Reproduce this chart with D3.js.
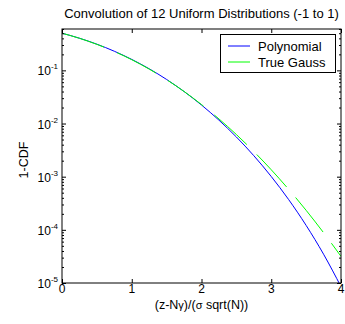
<!DOCTYPE html>
<html lang="en">
<head>
    <meta charset="UTF-8">
    <title>Convolution of 12 Uniform Distributions</title>
    <script src="https://cdn.jsdelivr.net/npm/d3@7/dist/d3.min.js"></script>
    <style>
        body { margin: 0; background: #fff; }
        text { font-family: "Liberation Sans", Arial, sans-serif; fill: #000; }
    </style>
</head>
<body>
<svg width="345" height="324"></svg>
<script type="text/javascript">
    // normalised variable (z - N*gamma)/(sigma*sqrt(N))
    var xValues = [0, 0.25, 0.5, 0.75, 1, 1.25, 1.5, 1.75, 2, 2.25, 2.5, 2.75, 3, 3.25, 3.5, 3.75, 4];
    // 1-CDF of the sum of 12 uniforms (piecewise polynomial)
    var polyValues = [0.5, 0.4027, 0.3106, 0.2290, 0.1607, 0.1071, 0.0674, 0.0400, 0.02228, 0.01157,
        0.00558, 0.00248, 0.001007, 0.000370, 0.0001212, 0.0000348, 0.00000853];
    // 1-CDF of the true gaussian
    var gaussValues = [0.5, 0.4013, 0.3085, 0.2266, 0.1587, 0.1056, 0.0668, 0.0401, 0.02275, 0.01222,
        0.00621, 0.00298, 0.00135, 0.000577, 0.000233, 0.0000884, 0.0000317];
    var xTicks = [0, 1, 2, 3, 4];
    var yDecades = [1e-5, 1e-4, 1e-3, 1e-2, 1e-1];
    var yExponents = ["-5", "-4", "-3", "-2", "-1"];
    var seriesNames = ["Polynomial", "True Gauss"];
    var seriesColors = ["#0000ff", "#00ff00"];

    var marge = {top: 29, bottom: 41, left: 62, right: 4};
    var svg = d3.select("svg");
    var width = +svg.attr("width");
    var height = +svg.attr("height");
    var x0 = marge.left, x1 = width - marge.right;
    var y0 = marge.top, y1 = height - marge.bottom;

    var xScale = d3.scaleLinear().domain([0, 4]).range([x0, x1]);
    var yScale = d3.scaleLog().domain([1e-5, 0.6]).range([y1, y0]);

    var line = d3.line()
        .x(function (d) { return xScale(d[0]); })
        .y(function (d) { return yScale(d[1]); })
        .curve(d3.curveMonotoneX);

    var polyPts = xValues.map(function (x, i) { return [x, polyValues[i]]; });
    var gaussPts = xValues.map(function (x, i) { return [x, gaussValues[i]]; });

    // clip to the axes box
    svg.append("clipPath").attr("id", "clip")
        .append("rect").attr("x", x0).attr("y", y0).attr("width", x1 - x0).attr("height", y1 - y0);

    var plot = svg.append("g").attr("clip-path", "url(#clip)");
    plot.append("path").datum(polyPts)
        .attr("d", line).attr("fill", "none")
        .attr("stroke", seriesColors[0]).attr("stroke-width", 1);
    var gPath = plot.append("path").datum(gaussPts)
        .attr("d", line).attr("fill", "none")
        .attr("stroke", seriesColors[1]).attr("stroke-width", 1)
        .attr("stroke-dasharray", "44,14");

    // line up the dash gaps with the reference (a gap starts near x = 3.22)
    var node = gPath.node();
    var total = node.getTotalLength();
    var lo = 0, hi = total, target = xScale(3.22);
    for (var k = 0; k < 40; k++) {
        var mid = (lo + hi) / 2;
        if (node.getPointAtLength(mid).x < target) lo = mid; else hi = mid;
    }
    var off = ((44 - lo) % 58 + 58) % 58;
    gPath.attr("stroke-dashoffset", off);

    // axes, ticks pointing inward on all four sides
    var yTicksAll = yScale.ticks().filter(function (v) { return v <= 0.6; });
    function addAxis(axis, tx, ty) {
        var g = svg.append("g").attr("transform", "translate(" + tx + "," + ty + ")").call(axis);
        g.selectAll("text").remove();
        g.select(".domain").remove();
        g.selectAll("line").attr("stroke", "#000");
        return g;
    }
    addAxis(d3.axisBottom(xScale).tickValues(xTicks).tickSizeInner(-4).tickSizeOuter(0), 0, y1);
    addAxis(d3.axisTop(xScale).tickValues(xTicks).tickSizeInner(-4).tickSizeOuter(0), 0, y0);
    var yl = addAxis(d3.axisLeft(yScale).tickValues(yTicksAll).tickSizeInner(-2).tickSizeOuter(0), x0, 0);
    var yr = addAxis(d3.axisRight(yScale).tickValues(yTicksAll).tickSizeInner(-2).tickSizeOuter(0), x1, 0);
    [yl, yr].forEach(function (g) {
        g.selectAll(".tick").filter(function (d) { return yDecades.indexOf(d) >= 0; })
            .select("line").attr("x2", g === yl ? 4 : -4);
    });

    svg.append("rect")
        .attr("x", x0).attr("y", y0).attr("width", x1 - x0).attr("height", y1 - y0)
        .attr("fill", "none").attr("stroke", "#000").attr("stroke-width", 1);

    // tick labels
    svg.selectAll(".xlab").data(xTicks).enter().append("text")
        .attr("x", function (d) { return xScale(d); })
        .attr("y", y1 + 10)
        .attr("text-anchor", "middle")
        .attr("font-size", 12)
        .text(function (d) { return d; });

    var ylab = svg.selectAll(".ylab").data(yDecades).enter().append("text")
        .attr("x", x0 - 4)
        .attr("y", function (d) { return yScale(d) + 5; })
        .attr("text-anchor", "end")
        .attr("font-size", 12);
    ylab.append("tspan").text("10");
    ylab.append("tspan").attr("dy", -6).attr("font-size", 8)
        .text(function (d, i) { return yExponents[i]; });

    // title and axis labels
    svg.append("text")
        .attr("x", (x0 + x1) / 2).attr("y", 18)
        .attr("text-anchor", "middle").attr("font-size", 13)
        .text("Convolution of 12 Uniform Distributions (-1 to 1)");

    var xl = svg.append("text")
        .attr("x", (x0 + x1) / 2).attr("y", 309)
        .attr("text-anchor", "middle").attr("font-size", 12.5);
    xl.append("tspan").text("(z-N");
    xl.append("tspan").attr("font-size", 11).text("\u03b3");
    xl.append("tspan").text(")/(");
    xl.append("tspan").attr("font-size", 11).text("\u03c3");
    xl.append("tspan").text(" sqrt(N))");

    svg.append("text")
        .attr("transform", "translate(28," + ((y0 + y1) / 2 + 4) + ") rotate(-90)")
        .attr("text-anchor", "middle").attr("font-size", 12.5)
        .text("1-CDF");

    // legend
    var lg = svg.append("g");
    lg.append("rect")
        .attr("x", 220.5).attr("y", 34.5).attr("width", 115).attr("height", 38)
        .attr("fill", "#fff").attr("stroke", "#000");
    seriesNames.forEach(function (name, i) {
        var ly = 46 + i * 16;
        lg.append("line").attr("x1", 228).attr("x2", 250).attr("y1", ly).attr("y2", ly)
            .attr("stroke", seriesColors[i]).attr("stroke-width", 1);
        lg.append("text").attr("x", 258).attr("y", ly + 5)
            .attr("font-size", 13).text(name);
    });
</script>
</body>
</html>
